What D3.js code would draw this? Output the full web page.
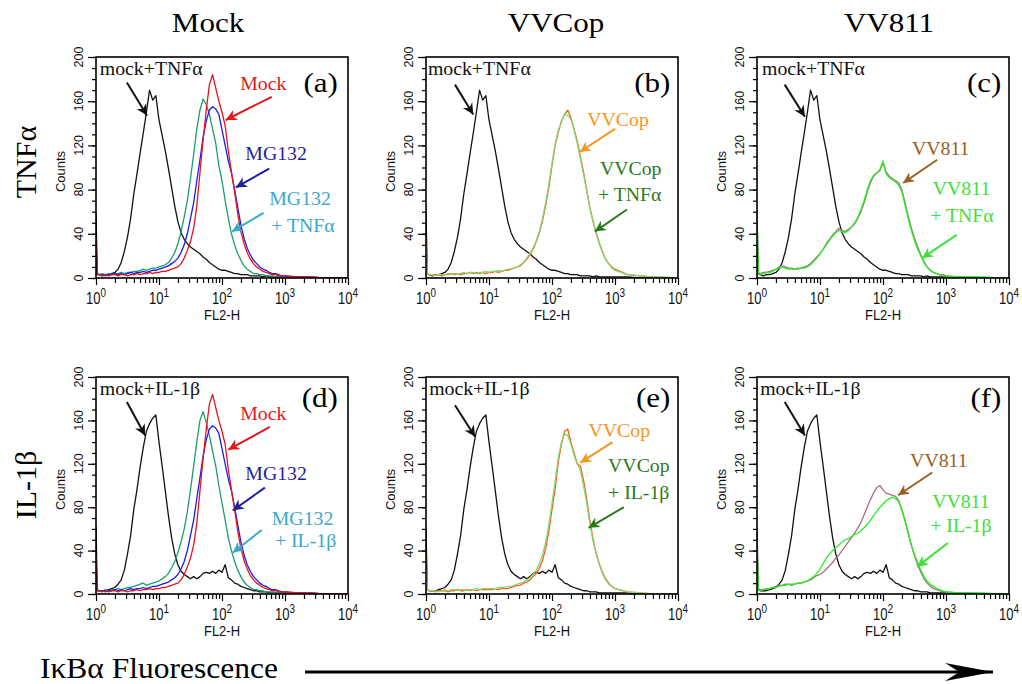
<!DOCTYPE html>
<meta charset="utf-8">
<style>
body { margin: 0; background: #fff; }
svg { display: block; }
.serif { font-family: "Liberation Serif", "Times New Roman", serif; }
.sans { font-family: "Liberation Sans", Arial, sans-serif; }
.frame { fill: none; stroke: #000; stroke-width: 1.6px; }
.tick line { stroke: #000; stroke-width: 1.2px; }
.trace { fill: none; stroke-width: 1.3px; stroke-linejoin: round; }
</style>
<body>
<div id="fig"></div>
<script src="https://cdn.jsdelivr.net/npm/d3@7"></script>
<script>
// FL2-H channel positions (log10 of fluorescence) shared by every histogram
var chan = [0, 0.02,
  0.05, 0.1, 0.15, 0.2, 0.25, 0.3, 0.35, 0.4, 0.45, 0.5,
  0.55, 0.6, 0.65, 0.7, 0.75, 0.8, 0.85, 0.9, 0.95, 1,
  1.05, 1.1, 1.15, 1.2, 1.25, 1.3, 1.35, 1.4, 1.45, 1.5,
  1.55, 1.6, 1.65, 1.7, 1.75, 1.8, 1.85, 1.9, 1.95, 2,
  2.05, 2.1, 2.15, 2.2, 2.25, 2.3, 2.35, 2.4, 2.45, 2.5,
  2.55, 2.6, 2.65, 2.7, 2.75, 2.8, 2.85, 2.9, 2.95, 3,
  3.2, 3.4, 3.6, 3.8, 4];

// counts, one value per channel above
var mockTNF = [60, 4,
  3, 2, 3, 3, 4, 5, 8, 14, 24, 37,
  54, 76, 94, 113, 131, 150, 170, 161, 165, 143,
  129, 115, 99, 82, 65, 51, 41, 35, 31, 28,
  26, 24, 22, 19, 17, 14, 12, 10, 8, 7,
  7, 6, 5, 4, 4, 3, 3, 3, 2, 2,
  2, 2, 1, 2, 1, 1, 1, 1, 1, 1,
  1, 0, 0, 0, 0];
var mockIL = [62, 4,
  3, 3, 3, 4, 5, 6, 9, 13, 22, 37,
  54, 78, 96, 117, 135, 150, 157, 162, 165, 140,
  118, 95, 72, 52, 37, 27, 21, 18, 16, 14,
  16, 14, 16, 19, 20, 19, 21, 19, 22, 20,
  27, 15, 13, 10, 9, 7, 6, 5, 4, 3,
  3, 2, 2, 2, 1, 1, 1, 1, 1, 1,
  1, 0, 0, 0, 0];
var mock = [35, 3,
  3, 2, 3, 2, 3, 3, 2, 3, 3, 2,
  3, 3, 4, 3, 4, 4, 5, 4, 5, 5,
  6, 6, 7, 8, 9, 10, 13, 18, 25, 33,
  45, 65, 95, 125, 152, 175, 184, 172, 160, 150,
  138, 115, 96, 78, 58, 42, 31, 23, 17, 13,
  10, 8, 6, 5, 4, 3, 3, 2, 2, 2,
  1, 1, 0, 0, 0];
var mg132 = [30, 3,
  3, 3, 2, 3, 3, 4, 3, 4, 3, 4,
  5, 4, 5, 5, 6, 5, 6, 7, 7, 8,
  9, 10, 11, 13, 15, 18, 23, 30, 40, 54,
  68, 88, 107, 127, 142, 152, 155, 153, 148, 134,
  120, 106, 95, 80, 64, 48, 36, 27, 21, 16,
  13, 10, 8, 7, 5, 4, 4, 3, 2, 2,
  1, 1, 0, 0, 0];
var mg132TNF = [38, 4,
  3, 4, 3, 4, 3, 4, 4, 5, 4, 5,
  5, 6, 6, 7, 8, 7, 8, 9, 9, 10,
  11, 12, 14, 18, 23, 31, 42, 55, 70, 90,
  112, 135, 152, 162, 157, 148, 135, 122, 102, 88,
  70, 54, 40, 30, 22, 16, 11, 8, 6, 4,
  4, 3, 3, 2, 2, 2, 1, 1, 1, 1,
  1, 1, 0, 0, 0];
var mg132IL = [36, 4,
  3, 3, 4, 3, 4, 4, 5, 4, 5, 6,
  6, 7, 8, 9, 10, 8, 9, 10, 11, 12,
  14, 16, 19, 24, 30, 38, 48, 60, 76, 96,
  118, 140, 160, 168, 158, 146, 132, 118, 100, 84,
  68, 52, 40, 30, 22, 16, 11, 8, 6, 4,
  4, 3, 3, 2, 2, 2, 1, 1, 1, 1,
  1, 1, 0, 0, 0];
var vvcop1 = [37, 4,
  3, 2, 3, 3, 2, 3, 3, 4, 3, 4,
  3, 4, 4, 5, 4, 5, 4, 5, 4, 5,
  5, 6, 5, 6, 7, 7, 8, 9, 10, 11,
  14, 17, 21, 26, 33, 41, 52, 66, 82, 102,
  120, 132, 142, 148, 152, 145, 135, 124, 110, 96,
  80, 64, 52, 41, 32, 24, 17, 13, 10, 8,
  3, 2, 1, 0, 0];
var vvcopTNF = [30, 4,
  3, 3, 2, 3, 3, 3, 4, 3, 4, 4,
  4, 5, 4, 5, 5, 4, 5, 5, 6, 5,
  6, 6, 7, 6, 7, 8, 8, 9, 10, 12,
  14, 18, 22, 27, 34, 42, 54, 68, 85, 104,
  121, 134, 141, 149, 147, 144, 134, 122, 108, 94,
  79, 64, 51, 40, 31, 23, 17, 13, 9, 7,
  3, 2, 1, 1, 0];
var vvcop2 = [38, 4,
  3, 3, 2, 3, 3, 3, 2, 3, 3, 4,
  3, 3, 4, 3, 4, 3, 4, 4, 4, 4,
  4, 5, 4, 5, 5, 5, 6, 7, 8, 8,
  10, 11, 13, 16, 19, 24, 31, 42, 58, 78,
  97, 122, 138, 150, 152, 140, 130, 120, 118, 105,
  88, 68, 51, 38, 28, 20, 14, 10, 7, 5,
  2, 1, 0, 0, 0];
var vvcopIL = [32, 4,
  3, 3, 3, 2, 3, 4, 3, 4, 4, 3,
  4, 4, 3, 4, 4, 5, 4, 5, 5, 5,
  5, 5, 6, 6, 6, 7, 7, 8, 9, 10,
  11, 13, 15, 18, 22, 28, 36, 48, 64, 84,
  104, 126, 140, 148, 146, 138, 128, 120, 114, 100,
  84, 65, 49, 37, 27, 19, 13, 9, 7, 5,
  2, 1, 0, 0, 0];
var vv811a = [40, 5,
  4, 5, 5, 6, 7, 8, 10, 11, 10, 9,
  9, 8, 9, 9, 10, 11, 13, 16, 19, 22,
  26, 31, 35, 39, 42, 45, 43, 42, 44, 46,
  49, 54, 60, 68, 78, 86, 92, 95, 97, 104,
  96, 92, 90, 88, 86, 80, 68, 56, 45, 36,
  28, 21, 15, 10, 7, 5, 4, 3, 3, 2,
  1, 1, 0, 0, 0];
var vv811TNF = [62, 5,
  3, 4, 5, 5, 6, 8, 9, 10, 9, 8,
  8, 8, 8, 9, 9, 10, 12, 15, 18, 22,
  26, 30, 34, 38, 41, 43, 42, 41, 43, 46,
  50, 55, 62, 70, 80, 88, 93, 95, 98, 106,
  94, 91, 89, 87, 84, 78, 66, 54, 43, 34,
  26, 20, 14, 10, 7, 5, 4, 3, 2, 2,
  1, 1, 1, 0, 0];
var vv811b = [40, 5,
  4, 4, 5, 5, 6, 7, 8, 8, 9, 9,
  8, 9, 10, 10, 11, 12, 13, 15, 17, 18,
  20, 23, 26, 29, 33, 36, 40, 44, 48, 52,
  56, 61, 66, 73, 80, 87, 93, 98, 100, 96,
  93, 92, 91, 90, 86, 78, 68, 56, 45, 35,
  27, 20, 14, 10, 7, 5, 4, 3, 2, 2,
  1, 1, 0, 0, 0];
var vv811IL = [50, 5,
  3, 4, 4, 5, 6, 6, 7, 8, 8, 9,
  9, 9, 10, 10, 11, 12, 14, 16, 19, 23,
  28, 33, 37, 40, 43, 45, 48, 50, 51, 53,
  55, 56, 58, 61, 64, 68, 72, 76, 80, 83,
  86, 88, 89, 88, 85, 77, 67, 56, 45, 36,
  29, 22, 16, 12, 9, 7, 5, 4, 3, 2,
  1, 1, 1, 0, 0];

var colTitles = ["Mock", "VVCop", "VV811"];
var rowTitles = ["TNF\u03b1", "IL-1\u03b2"];
var panelTags = ["(a)", "(b)", "(c)", "(d)", "(e)", "(f)"];
var countTicks = [0, 40, 80, 120, 160, 200];
var decades = [0, 1, 2, 3, 4];

var C = {
  black: "#111", red: "#e8141c", blue: "#1c1cf0", teal: "#1a9f6e",
  orange: "#ff5a12", lgreen: "#84d878", mauve: "#a3727c", bgreen: "#26ee22",
  tRed: "#e3161c", tNavy: "#1e1e9c", tCyan: "#3aa8cc", tOrange: "#f7961e",
  tDkgreen: "#2a7a1c", tBrown: "#9a5e22", tGreen: "#3ee03a"
};

// which histograms go in which panel (drawing order)
var panels = [
  [[mockTNF, C.black], [mg132TNF, C.teal], [mg132, C.blue], [mock, C.red]],
  [[mockTNF, C.black], [vvcop1, C.orange], [vvcopTNF, C.lgreen]],
  [[mockTNF, C.black], [vv811a, C.mauve], [vv811TNF, C.bgreen]],
  [[mockIL, C.black], [mg132IL, C.teal], [mg132, C.blue], [mock, C.red]],
  [[mockIL, C.black], [vvcop2, C.orange], [vvcopIL, C.lgreen]],
  [[mockIL, C.black], [vv811b, C.mauve], [vv811IL, C.bgreen]]
];

// annotations, placed in data units: [log10 FL2-H, counts]
var TA = "+ TNF\u03b1", IB = "+ IL-1\u03b2";
var notes = [
  [ {c: C.black, lines: [["mock+TNF\u03b1", 0.06, 184]], arr: [[0.49, 177], [0.81, 147]]},
    {c: C.tRed, lines: [["Mock", 2.29, 170]], arr: [[2.79, 164], [2.06, 143]]},
    {c: C.tNavy, lines: [["MG132", 2.37, 107]], arr: [[2.75, 99], [2.22, 82]]},
    {c: C.tCyan, lines: [["MG132", 2.75, 66], [TA, 2.78, 42]], arr: [[2.66, 59], [2.16, 42]]} ],
  [ {c: C.black, lines: [["mock+TNF\u03b1", 0.03, 184]], arr: [[0.46, 175], [0.75, 148]]},
    {c: C.tOrange, lines: [["VVCop", 2.56, 138]], arr: [[3.0, 135], [2.44, 114]]},
    {c: C.tDkgreen, lines: [["VVCop", 2.76, 93], [TA, 2.73, 70]], arr: [[3.19, 62], [2.68, 42]]} ],
  [ {c: C.black, lines: [["mock+TNF\u03b1", 0.08, 184]], arr: [[0.44, 175], [0.76, 146]]},
    {c: C.tBrown, lines: [["VV811", 2.46, 111]], arr: [[2.86, 107], [2.32, 86]]},
    {c: C.tGreen, lines: [["VV811", 2.79, 75], [TA, 2.75, 51]], arr: [[3.17, 39], [2.62, 18]]} ],
  [ {c: C.black, lines: [["mock+IL-1\u03b2", 0.06, 183]], arr: [[0.49, 177], [0.78, 146]]},
    {c: C.tRed, lines: [["Mock", 2.29, 160]], arr: [[2.76, 154], [2.1, 133]]},
    {c: C.tNavy, lines: [["MG132", 2.37, 105]], arr: [[2.68, 98], [2.17, 77]]},
    {c: C.tCyan, lines: [["MG132", 2.79, 64], [IB, 2.84, 43]], arr: [[2.63, 59], [2.17, 38]]} ],
  [ {c: C.black, lines: [["mock+IL-1\u03b2", 0.05, 183]], arr: [[0.46, 174], [0.78, 145]]},
    {c: C.tOrange, lines: [["VVCop", 2.58, 145]], arr: [[2.96, 140], [2.45, 121]]},
    {c: C.tDkgreen, lines: [["VVCop", 2.89, 112], [IB, 2.89, 88]], arr: [[3.14, 80], [2.58, 61]]} ],
  [ {c: C.black, lines: [["mock+IL-1\u03b2", 0.05, 183]], arr: [[0.44, 177], [0.76, 146]]},
    {c: C.tBrown, lines: [["VV811", 2.43, 117]], arr: [[2.78, 112], [2.24, 91]]},
    {c: C.tGreen, lines: [["VV811", 2.78, 79], [IB, 2.75, 57]], arr: [[3.03, 47], [2.54, 25]]} ]
];

var W = 1022, H = 684;
var colLeft = [96, 426, 757], rowTop = [57, 377], rowH = [221, 217], panelW = 252;
var tagPos = [3.84, 3.88, 3.88];

var svg = d3.select("#fig").append("svg").attr("width", W).attr("height", H);
var defs = svg.append("defs");

function head(col, len, half) {
  len = len || 11; half = half || 5.5;
  var id = "h" + col.replace("#", "") + len;
  if (defs.select("#" + id).empty()) {
    defs.append("marker").attr("id", id)
        .attr("viewBox", [-len - 1, -half - 1, len + 2, 2 * half + 2].join(" "))
        .attr("refX", 0).attr("refY", 0)
        .attr("markerWidth", len + 2).attr("markerHeight", 2 * half + 2)
        .attr("markerUnits", "userSpaceOnUse").attr("orient", "auto")
      .append("path")
        .attr("d", "M0,0 L" + (-len) + "," + (-half) + " L" + (-len * 0.7) + ",0 L" + (-len) + "," + half + " Z")
        .attr("fill", col);
  }
  return "url(#" + id + ")";
}

function serif(g, x, y, s, size, col, sx, anchor) {
  return g.append("text").attr("class", "serif")
      .attr("transform", "translate(" + x + "," + y + ") scale(" + sx + ",1)")
      .attr("text-anchor", anchor || "start")
      .style("font-size", size + "px").attr("fill", col).text(s);
}

panels.forEach(function(series, i) {
  var col = i % 3, row = Math.floor(i / 3), h = rowH[row];
  var g = svg.append("g").attr("transform", "translate(" + colLeft[col] + "," + rowTop[row] + ")");
  var x = d3.scaleLog().domain([1, 1e4]).range([0, panelW]);
  var y = d3.scaleLinear().domain([0, 200]).range([h, 0]);
  var lx = function(e) { return x(Math.pow(10, e)); };

  // minor + major ticks
  var minors = [];
  decades.slice(0, 4).forEach(function(k) { d3.range(2, 10).forEach(function(m) { minors.push(m * Math.pow(10, k)); }); });
  g.append("g").attr("transform", "translate(0," + h + ")")
    .call(d3.axisBottom(x).tickValues(minors).tickSize(5).tickFormat(""))
    .call(function(a) { a.select(".domain").remove(); });
  g.append("g").attr("transform", "translate(0," + h + ")")
    .call(d3.axisBottom(x).tickValues(decades.map(function(k) { return Math.pow(10, k); })).tickSize(7).tickFormat(""))
    .call(function(a) { a.select(".domain").remove(); });
  g.append("g").call(d3.axisLeft(y).tickValues(d3.range(0, 201, 10)).tickSize(4).tickFormat(""))
    .call(function(a) { a.select(".domain").remove(); });
  g.append("g").call(d3.axisLeft(y).tickValues(countTicks).tickSize(8).tickFormat(""))
    .call(function(a) { a.select(".domain").remove(); });

  // x tick labels 10^k
  decades.forEach(function(k) {
    var t = g.append("text").attr("class", "sans")
        .attr("transform", "translate(" + x(Math.pow(10, k)) + "," + (h + 26) + ") scale(1,1.2)")
        .attr("text-anchor", "middle").style("font-size", "13px").attr("fill", "#111");
    t.append("tspan").text("10");
    t.append("tspan").attr("dy", -6).style("font-size", "10px").text(k);
  });
  g.append("text").attr("class", "sans")
      .attr("transform", "translate(" + panelW / 2 + "," + (h + 42) + ") scale(1,1.15)")
      .attr("text-anchor", "middle").style("font-size", "13px").attr("fill", "#111").text("FL2-H");
  // y tick labels (rotated)
  countTicks.forEach(function(v) {
    g.append("text").attr("class", "sans")
        .attr("transform", "translate(-13," + y(v) + ") rotate(-90)")
        .attr("text-anchor", "middle").style("font-size", "12.5px").attr("fill", "#111").text(v);
  });
  g.append("text").attr("class", "sans")
      .attr("transform", "translate(-31," + (h / 2 + 4) + ") rotate(-90)")
      .attr("text-anchor", "middle").style("font-size", "13px").attr("fill", "#111").text("Counts");

  // histograms
  var cid = "clip" + i;
  defs.append("clipPath").attr("id", cid).append("rect").attr("width", panelW).attr("height", h);
  var line = d3.line().x(function(d) { return lx(d[0]); }).y(function(d) { return y(d[1]); });
  var plot = g.append("g").attr("clip-path", "url(#" + cid + ")");
  series.forEach(function(s) {
    plot.append("path").attr("class", "trace").attr("stroke", s[1]).attr("d", line(d3.zip(chan, s[0])));
  });

  g.append("rect").attr("class", "frame").attr("width", panelW).attr("height", h);

  // annotations
  notes[i].forEach(function(n) {
    n.lines.forEach(function(l) { serif(g, lx(l[1]), y(l[2]), l[0], 18, n.c, 1.1); });
    g.append("line")
        .attr("x1", lx(n.arr[0][0])).attr("y1", y(n.arr[0][1]))
        .attr("x2", lx(n.arr[1][0])).attr("y2", y(n.arr[1][1]))
        .attr("stroke", n.c).attr("stroke-width", 2).attr("marker-end", head(n.c));
  });
  serif(g, lx(tagPos[col]), y(row ? 172 : 168), panelTags[i], 27, "#000", 1.15, "end");
});

// column and row headings
[208, 556, 889].forEach(function(cx, j) { serif(svg, cx, 32, colTitles[j], 27, "#000", 1.15, "middle"); });
[162, 485].forEach(function(cy, j) {
  svg.append("text").attr("class", "serif")
      .attr("transform", "translate(36," + cy + ") rotate(-90)")
      .attr("text-anchor", "middle").style("font-size", "30px").text(rowTitles[j]);
});

// bottom axis caption with long arrow
serif(svg, 40, 678, "I\u03baB\u03b1 Fluorescence", 30, "#000", 1.05);
svg.append("line").attr("x1", 305).attr("y1", 672).attr("x2", 993).attr("y2", 672)
    .attr("stroke", "#000").attr("stroke-width", 3).attr("marker-end", head("#000", 48, 9));
</script>
</body>
